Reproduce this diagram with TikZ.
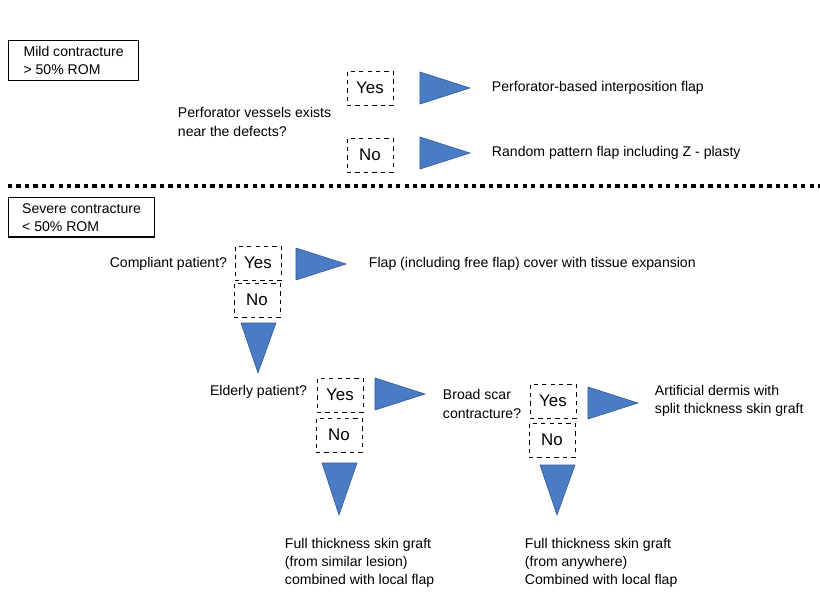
\documentclass[tikz,border=0pt]{standalone}
\usepackage{fontspec}
\setmainfont{Liberation Sans}
\usetikzlibrary{calc}
\definecolor{tri}{HTML}{4A7CC4}
\definecolor{triedge}{HTML}{2F5597}
\tikzset{
  cat/.style={draw, thick, align=left, font=\fontsize{10}{13}\selectfont, inner sep=4pt},
  ans/.style={draw, dashed, minimum width=1.15cm, minimum height=0.85cm, font=\fontsize{12}{14}\selectfont},
  txt/.style={align=left, font=\fontsize{10}{13}\selectfont},
  tri/.style={fill=tri, draw=triedge}
}
\begin{document}
\begin{tikzpicture}[x=0.025cm, y=-0.025cm]
\useasboundingbox (0,0) rectangle (820,601);

% mild
\node[cat, anchor=north west, minimum width=3.25cm] (mild) at (8,40) {Mild contracture\\> 50\% ROM};
\node[txt, anchor=west] (perf) at (173,122) {Perforator vessels exists\\near the defects?};
\node[ans] (y1) at (370,88) {Yes};
\node[ans] (n1) at (370,155) {No};
\fill[tri] (420,72) -- (470,88) -- (420,104) -- cycle;
\fill[tri] (420,137) -- (470,153) -- (420,169) -- cycle;
\node[txt, anchor=west] (r1) at (487,88) {Perforator-based interposition flap};
\node[txt, anchor=west] (r2) at (487,153) {Random pattern flap including Z - plasty};

\draw[line width=3pt, dash pattern=on 3pt off 3pt] (8,186) -- (820,186);

% severe
\node[cat, anchor=north west, minimum width=3.65cm] (severe) at (8,197) {Severe contracture\\< 50\% ROM};
\node[txt, anchor=east] (comp) at (232,264) {Compliant patient?};
\node[ans] (y2) at (258,263) {Yes};
\node[ans] (n2) at (257,300) {No};
\fill[tri] (296,248) -- (346,264) -- (296,280) -- cycle;
\node[txt, anchor=west] (r3) at (364,264) {Flap (including free flap) cover with tissue expansion};
\fill[tri] (241,323) -- (276,323) -- (258,373) -- cycle;

\node[txt, anchor=east] (eld) at (312,392) {Elderly patient?};
\node[ans] (y3) at (340,395) {Yes};
\node[ans] (n3) at (339,435) {No};
\fill[tri] (375,378) -- (425,394) -- (375,410) -- cycle;
\fill[tri] (322,463) -- (357,463) -- (339,515) -- cycle;

\node[txt, anchor=west] (broad) at (438,404) {Broad scar\\contracture?};
\node[ans] (y4) at (553,401) {Yes};
\node[ans] (n4) at (552,440) {No};
\fill[tri] (588,387) -- (638,403) -- (588,419) -- cycle;
\node[txt, anchor=west] (r4) at (650,401) {Artificial dermis with\\split thickness skin graft};
\fill[tri] (540,465) -- (575,465) -- (557,515) -- cycle;

\node[txt, anchor=north west] (r5) at (280,533) {Full thickness skin graft\\(from similar lesion)\\combined with local flap};
\node[txt, anchor=north west] (r6) at (520,533) {Full thickness skin graft\\(from anywhere)\\Combined with local flap};
\end{tikzpicture}
\end{document}
